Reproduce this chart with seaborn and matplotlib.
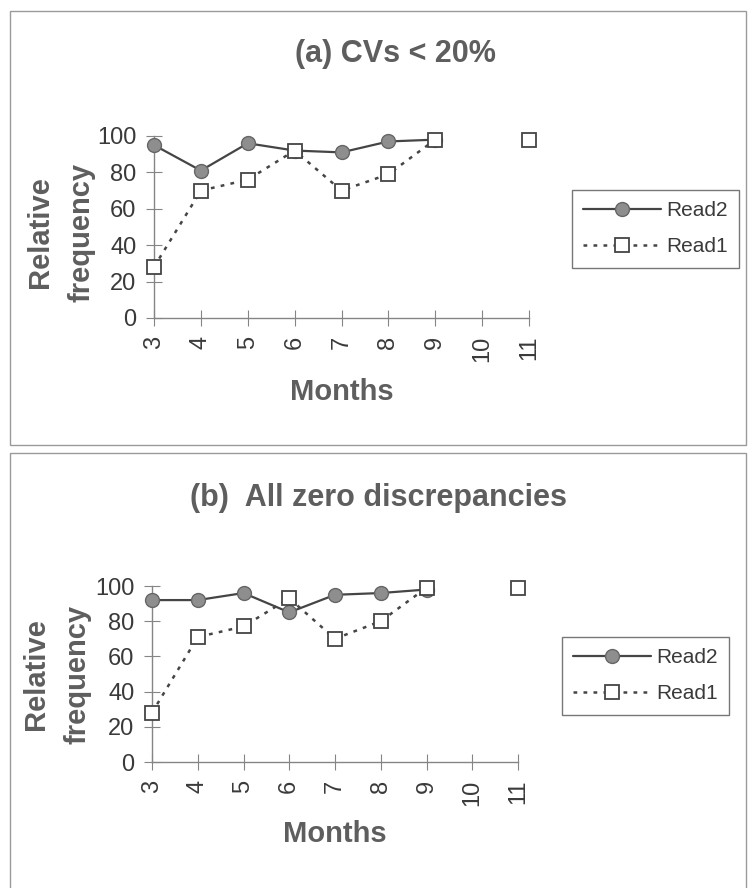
import numpy as np
import pandas as pd
import matplotlib
matplotlib.use("Agg")
import matplotlib.pyplot as plt
import seaborn as sns
from matplotlib.lines import Line2D
from matplotlib.patches import Rectangle

# data (nan = no value for that month)
nan = np.nan
months = [3, 4, 5, 6, 7, 8, 9, 10, 11]
a_read2 = [95, 81, 96, 92, 91, 97, 98, nan, nan]
a_read1 = [28, 70, 76, 92, 70, 79, 98, nan, 98]
b_read2 = [92, 92, 96, 85, 95, 96, 98, nan, nan]
b_read1 = [28, 71, 77, 93, 70, 80, 99, nan, 99]
titles = ["(a) CVs < 20%", "(b)  All zero discrepancies"]
series_names = ["Read2", "Read1"]

sns.set_style("white")
plt.rcParams["font.family"] = ["Liberation Sans", "DejaVu Sans"]

W, H = 750, 888
fig = plt.figure(figsize=(W / 100, H / 100), dpi=100)

label_col = "#5e5e5e"
tick_col = "#3a3a3a"
axis_col = "#858585"
dots = (0, (1.5, 2.5))


def series_frame(vals):
    df = pd.DataFrame({"month": months, "value": vals})
    # a new segment starts after every gap so the line is broken there
    df["seg"] = df["value"].isna().cumsum()
    return df.dropna()


def draw_panel(ax, read2, read1):
    sns.lineplot(data=series_frame(read2), x="month", y="value", units="seg",
                 estimator=None, color="#454545", linewidth=1.6, marker="o",
                 ms=10, mfc="#8e8e8e", mec="#666666", mew=1.0, ax=ax, zorder=3)
    sns.lineplot(data=series_frame(read1), x="month", y="value", units="seg",
                 estimator=None, color="#454545", linewidth=1.8,
                 linestyle=dots, marker="s", ms=9.5, mfc="white",
                 mec="#444444", mew=1.3, ax=ax, zorder=4)
    for ln in ax.lines:
        ln.set_clip_on(False)
    ax.set_xlim(3, 11)
    ax.set_ylim(0, 100)
    ax.set_xticks(months)
    ax.set_yticks(range(0, 101, 20))
    ax.tick_params(bottom=True, left=True, direction="inout", length=11.5,
                   width=0.8, color=axis_col, labelsize=17,
                   labelcolor=tick_col, pad=7)
    ax.tick_params(axis="x", labelrotation=90)
    sns.despine(ax=ax)
    for s in ["left", "bottom"]:
        ax.spines[s].set_color(axis_col)
        ax.spines[s].set_linewidth(1.0)
    ax.set_xlabel("Months", fontsize=21, fontweight="bold", color=label_col,
                  va="center")
    ax.set_ylabel("Relative\nfrequency", fontsize=21, fontweight="bold",
                  color=label_col, va="center", linespacing=1.6)

    handles = [
        Line2D([], [], color="#454545", lw=1.6, marker="o", ms=10,
               mfc="#8e8e8e", mec="#666666"),
        Line2D([], [], color="#454545", lw=1.8, ls=dots, marker="s",
               ms=9.5, mfc="white", mec="#444444", mew=1.3),
    ]
    return handles


def px_axes(x0, x1, y_top, y_bot):
    return fig.add_axes([x0 / W, 1 - y_bot / H, (x1 - x0) / W, (y_bot - y_top) / H])


def px_to_axes(x0, x1, y_top, y_bot, px, py):
    return (px - x0) / (x1 - x0), (y_bot - py) / (y_bot - y_top)


panels = [
    # axes box (x0, x1, ytop, ybot), title xy, ylabel xy, xlabel y, legend top-left
    ((154, 529, 136, 318), (395, 54), (61, 232), 392, (572, 190), a_read2, a_read1, titles[0]),
    ((152, 518, 586, 762), (378, 498), (57, 674), 834, (562, 637), b_read2, b_read1, titles[1]),
]

for box, txy, ylab, xlab_y, leg_xy, r2, r1, title in panels:
    ax = px_axes(*box)
    handles = draw_panel(ax, r2, r1)
    ax.yaxis.set_label_coords(*px_to_axes(*box, *ylab))
    ax.xaxis.set_label_coords(0.5, px_to_axes(*box, 0, xlab_y)[1])
    fig.text(txy[0] / W, 1 - txy[1] / H, title, fontsize=22, fontweight="bold",
             color=label_col, ha="center", va="center")
    leg = ax.legend(handles, series_names, loc="upper left",
                    bbox_to_anchor=(leg_xy[0] / W, 1 - leg_xy[1] / H),
                    bbox_transform=fig.transFigure, fontsize=15, frameon=True,
                    fancybox=False, edgecolor="#777777", framealpha=1,
                    handlelength=3.7, handletextpad=0.25, labelspacing=0.8,
                    borderpad=0.55, borderaxespad=0)
    leg.get_frame().set_linewidth(1.0)
    for t in leg.get_texts():
        t.set_color(tick_col)

# panel frames
fig.patches.append(Rectangle((10 / W, 1 - 445 / H), 736 / W, 434 / H,
                             transform=fig.transFigure, fill=False,
                             ec="#9a9a9a", lw=1.0))
fig.patches.append(Rectangle((10 / W, -0.01), 736 / W, (H - 453) / H + 0.01,
                             transform=fig.transFigure, fill=False,
                             ec="#9a9a9a", lw=1.0))

fig.savefig("out.png", dpi=100, facecolor="white")
